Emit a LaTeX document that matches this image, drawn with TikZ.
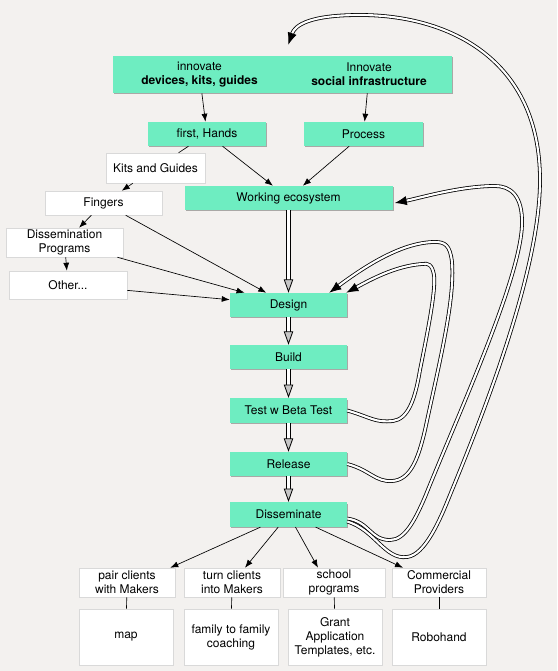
\documentclass[tikz,border=0pt]{standalone}
\usepackage{fontspec}
\setmainfont{TeX Gyre Heros}
\usetikzlibrary{arrows.meta,shadows,calc}
\definecolor{mint}{HTML}{6EEDC1}
\definecolor{paper}{HTML}{F3F1EF}
\tikzset{
  base/.style={inner sep=1pt, align=center, font=\fontsize{9}{10.5}\selectfont,
    drop shadow={shadow xshift=1pt, shadow yshift=-1pt, opacity=0.3, fill=black}},
  greenbox/.style={base, fill=mint},
  whitebox/.style={base, fill=white, draw=black!15, line width=0.4pt},
  arr/.style={-{Latex[length=6pt,width=4.5pt]}, line width=0.5pt},
  link/.style={line width=0.5pt},
  flow/.style={double, double distance=2.6pt, line width=0.6pt,
    -{Triangle[open,fill=gray!45,length=10pt,width=7pt]}},
  loopback/.style={double, double distance=1.6pt, line width=0.6pt,
    -{Latex[length=9pt,width=7pt]}},
}
\begin{document}
\begin{tikzpicture}[x=0.75pt,y=0.75pt,yscale=-1]
\fill[paper] (0,0) rectangle (557,671);
\useasboundingbox (0,0) rectangle (557,671);
% innovation boxes
\node[greenbox, minimum width=129.75pt, minimum height=27.75pt] (devices) at (199.5,74.5) {innovate\\\textbf{devices, kits, guides}};
\node[greenbox, minimum width=124.5pt, minimum height=27.75pt] (infra) at (369,74.5) {Innovate\\\textbf{social infrastructure}};
\node[greenbox, minimum width=88.5pt, minimum height=18pt] (hands) at (207,134) {first, Hands};
\node[greenbox, minimum width=89.25pt, minimum height=18pt] (process) at (363.5,134) {Process};
\node[greenbox, minimum width=156pt, minimum height=18pt] (eco) at (288.5,198) {Working ecosystem};
% side branch
\node[whitebox, minimum width=74.25pt, minimum height=22.5pt] (kits) at (155.5,168) {Kits and Guides};
\node[whitebox, minimum width=87.75pt, minimum height=18pt] (fingers) at (103.5,203) {Fingers};
\node[whitebox, minimum width=87.75pt, minimum height=21.75pt] (programs) at (64.5,242.5) {Dissemination\\Programs};
\node[whitebox, minimum width=88.5pt, minimum height=21pt] (other) at (68,285) {Other...};
% main flow
\node[greenbox, minimum width=87.75pt, minimum height=18pt] (design) at (288.5,305) {Design};
\node[greenbox, minimum width=87.75pt, minimum height=18pt] (build) at (288.5,357) {Build};
\node[greenbox, minimum width=87.75pt, minimum height=18.5pt] (test) at (288.5,410.5) {Test w Beta Test};
\node[greenbox, minimum width=87.75pt, minimum height=18pt] (release) at (288.5,464) {Release};
\node[greenbox, minimum width=87.75pt, minimum height=18.5pt] (dis) at (288.5,514.5) {Disseminate};
% dissemination routes
\node[whitebox, minimum width=72pt, minimum height=21.75pt] (pair) at (127,582.5) {pair clients\\with Makers};
\node[whitebox, minimum width=72pt, minimum height=21.75pt] (turn) at (232,582.5) {turn clients\\into Makers};
\node[whitebox, minimum width=76.5pt, minimum height=21.75pt] (school) at (334,582.5) {school\\programs};
\node[whitebox, minimum width=70.5pt, minimum height=21.75pt] (commercial) at (439,582.5) {Commercial\\Providers};
\node[whitebox, minimum width=70.5pt, minimum height=42pt] (map) at (126,637) {map};
\node[whitebox, minimum width=70.5pt, minimum height=42pt] (family) at (231,637) {family to family\\coaching};
\node[whitebox, minimum width=70.5pt, minimum height=42pt] (grant) at (335,637) {Grant\\Application\\Templates, etc.};
\node[whitebox, minimum width=70.5pt, minimum height=42pt] (robo) at (439,637) {Robohand};

\draw[arr] (devices) -- (hands);
\draw[arr] (infra) -- (process);
\draw[arr] (hands) -- (eco);
\draw[arr] (process) -- (eco);
\draw[link] (hands) -- (kits);
\draw[arr] (kits) -- (fingers);
\draw[arr] (fingers) -- (programs);
\draw[arr] (programs) -- (other);
\draw[arr] (fingers) -- (design);
\draw[arr] (programs) -- (design);
\draw[arr] (other) -- (design);

\draw[flow] (eco) -- (design);
\draw[flow] (design) -- (build);
\draw[flow] (build) -- (test);
\draw[flow] (test) -- (release);
\draw[flow] (release) -- (dis);

\draw[arr] (dis) -- ($(pair.north east)+(-5,0)$);
\draw[arr] (dis) -- ($(turn.north)+(13,0)$);
\draw[arr] (dis) -- ($(school.north)+(-16,0)$);
\draw[arr] (dis) -- ($(commercial.north)+(-36,0)$);
\draw[link] (pair) -- (map);
\draw[link] (turn) -- (family);
\draw[link] (school) -- (grant);
\draw[link] (commercial) -- (robo);

% feedback loops
\draw[loopback] (test.east) .. controls (370,417) and (375,423) .. (393,421)
  .. controls (408,419) and (415,400) .. (420,370)
  .. controls (428,330) and (436,290) .. (434,275)
  .. controls (432,264) and (428,263) .. (422,264)
  .. controls (395,266) and (370,280) .. ($(design.north east)+(-1,0)$);
\draw[loopback] (release.east) .. controls (370,470) and (375,482) .. (392,481)
  .. controls (410,480) and (418,460) .. (425,430)
  .. controls (440,360) and (455,300) .. (452,262)
  .. controls (450,245) and (445,242) .. (435,242)
  .. controls (400,242) and (360,270) .. ($(design.north east)+(-18,0)$);
\draw[loopback] ($(dis.east)+(0,4)$) .. controls (370,522) and (370,540) .. (390,540)
  .. controls (405,540) and (415,520) .. (425,497)
  .. controls (460,410) and (520,280) .. (522,225)
  .. controls (523,195) and (510,186) .. (495,186)
  .. controls (460,186) and (420,198) .. ($(eco.east)+(2,5)$);
\draw[loopback] ($(dis.east)+(0,7)$) .. controls (375,530) and (385,560) .. (407,557)
  .. controls (425,555) and (440,520) .. (450,495)
  .. controls (485,410) and (540,270) .. (540,180)
  .. controls (540,60) and (450,15) .. (360,15)
  .. controls (310,15) and (295,25) .. ($(devices.north east)+(2,-11)$);
\end{tikzpicture}
\end{document}
